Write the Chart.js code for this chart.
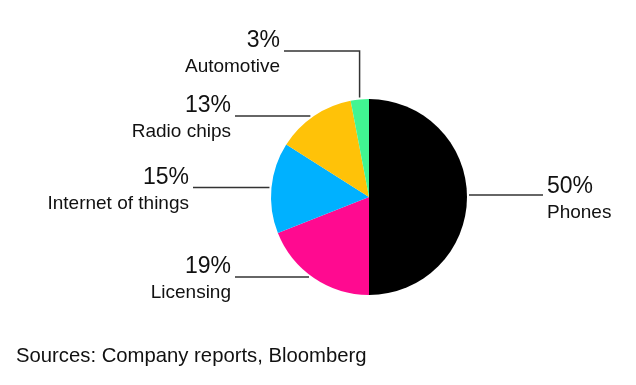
<!DOCTYPE html>
<html>
<head>
<meta charset="utf-8">
<script src="https://cdn.jsdelivr.net/npm/chart.js@4.4.1/dist/chart.umd.min.js"></script>
<style>
  html,body{margin:0;padding:0;background:#fff;}
  #wrap{position:relative;width:636px;height:385px;}
  #source{position:absolute;left:16px;top:344px;font:20.3px "Liberation Sans",Arial,sans-serif;color:#111;white-space:nowrap;}
</style>
</head>
<body>
<div id="wrap">
  <canvas id="pie" width="636" height="385"></canvas>
  <div id="source">Sources: Company reports, Bloomberg</div>
</div>
<script>
// segments, clockwise from 12 o'clock
const segments = ["Phones","Licensing","Internet of things","Radio chips","Automotive"];
const shares   = [50, 19, 15, 13, 3];
const colors   = ["#000000","#ff0a90","#00b1ff","#ffc208","#41f592"];

// label placement: side, text x, baseline of the % line, y of the leader line
const labelPos = [
  {side:"right", x:547, base:193, lineY:195, lineEnd:543},
  {side:"left",  x:231, base:273, lineY:277, lineEnd:235},
  {side:"left",  x:189, base:184, lineY:187.5, lineEnd:193},
  {side:"left",  x:231, base:112, lineY:116, lineEnd:235},
  {side:"left",  x:280, base:47,  lineY:51,  lineEnd:284, elbow:true}
];

const leaderLabels = {
  id:"leaderLabels",
  afterDraw(chart){
    const ctx = chart.ctx;
    const arcs = chart.getDatasetMeta(0).data;
    ctx.save();
    arcs.forEach((arc,i)=>{
      const p = labelPos[i];
      const {x:cx,y:cy,outerRadius:r,startAngle,endAngle} = arc.getProps(["x","y","outerRadius","startAngle","endAngle"],true);
      const R = r + 2;
      ctx.strokeStyle = "#333";
      ctx.lineWidth = 1.5;
      ctx.beginPath();
      if(p.elbow){
        const mid = (startAngle+endAngle)/2;
        const ex = cx + Math.cos(mid)*R;
        const ey = cy + Math.sin(mid)*R;
        ctx.moveTo(p.lineEnd,p.lineY);
        ctx.lineTo(ex,p.lineY);
        ctx.lineTo(ex,ey);
      }else{
        const dy = p.lineY - cy;
        const dx = Math.sqrt(Math.max(R*R-dy*dy,0));
        const ex = p.side==="right" ? cx+dx : cx-dx;
        ctx.moveTo(p.lineEnd,p.lineY);
        ctx.lineTo(ex,p.lineY);
      }
      ctx.stroke();

      ctx.fillStyle = "#111";
      ctx.textAlign = p.side==="right" ? "left" : "right";
      ctx.textBaseline = "alphabetic";
      ctx.font = '23px "Liberation Sans", Arial, sans-serif';
      ctx.fillText(shares[i]+"%", p.x, p.base);
      ctx.font = '19px "Liberation Sans", Arial, sans-serif';
      ctx.fillText(segments[i], p.x, p.base+25);
    });
    ctx.restore();
  }
};

new Chart(document.getElementById("pie"),{
  type:"pie",
  data:{
    labels:segments,
    datasets:[{data:shares, backgroundColor:colors, borderWidth:0, hoverOffset:0}]
  },
  options:{
    responsive:false,
    animation:false,
    events:[],
    layout:{padding:{left:271,right:169,top:99,bottom:90}},
    plugins:{legend:{display:false}, tooltip:{enabled:false}}
  },
  plugins:[leaderLabels]
});
</script>
</body>
</html>
